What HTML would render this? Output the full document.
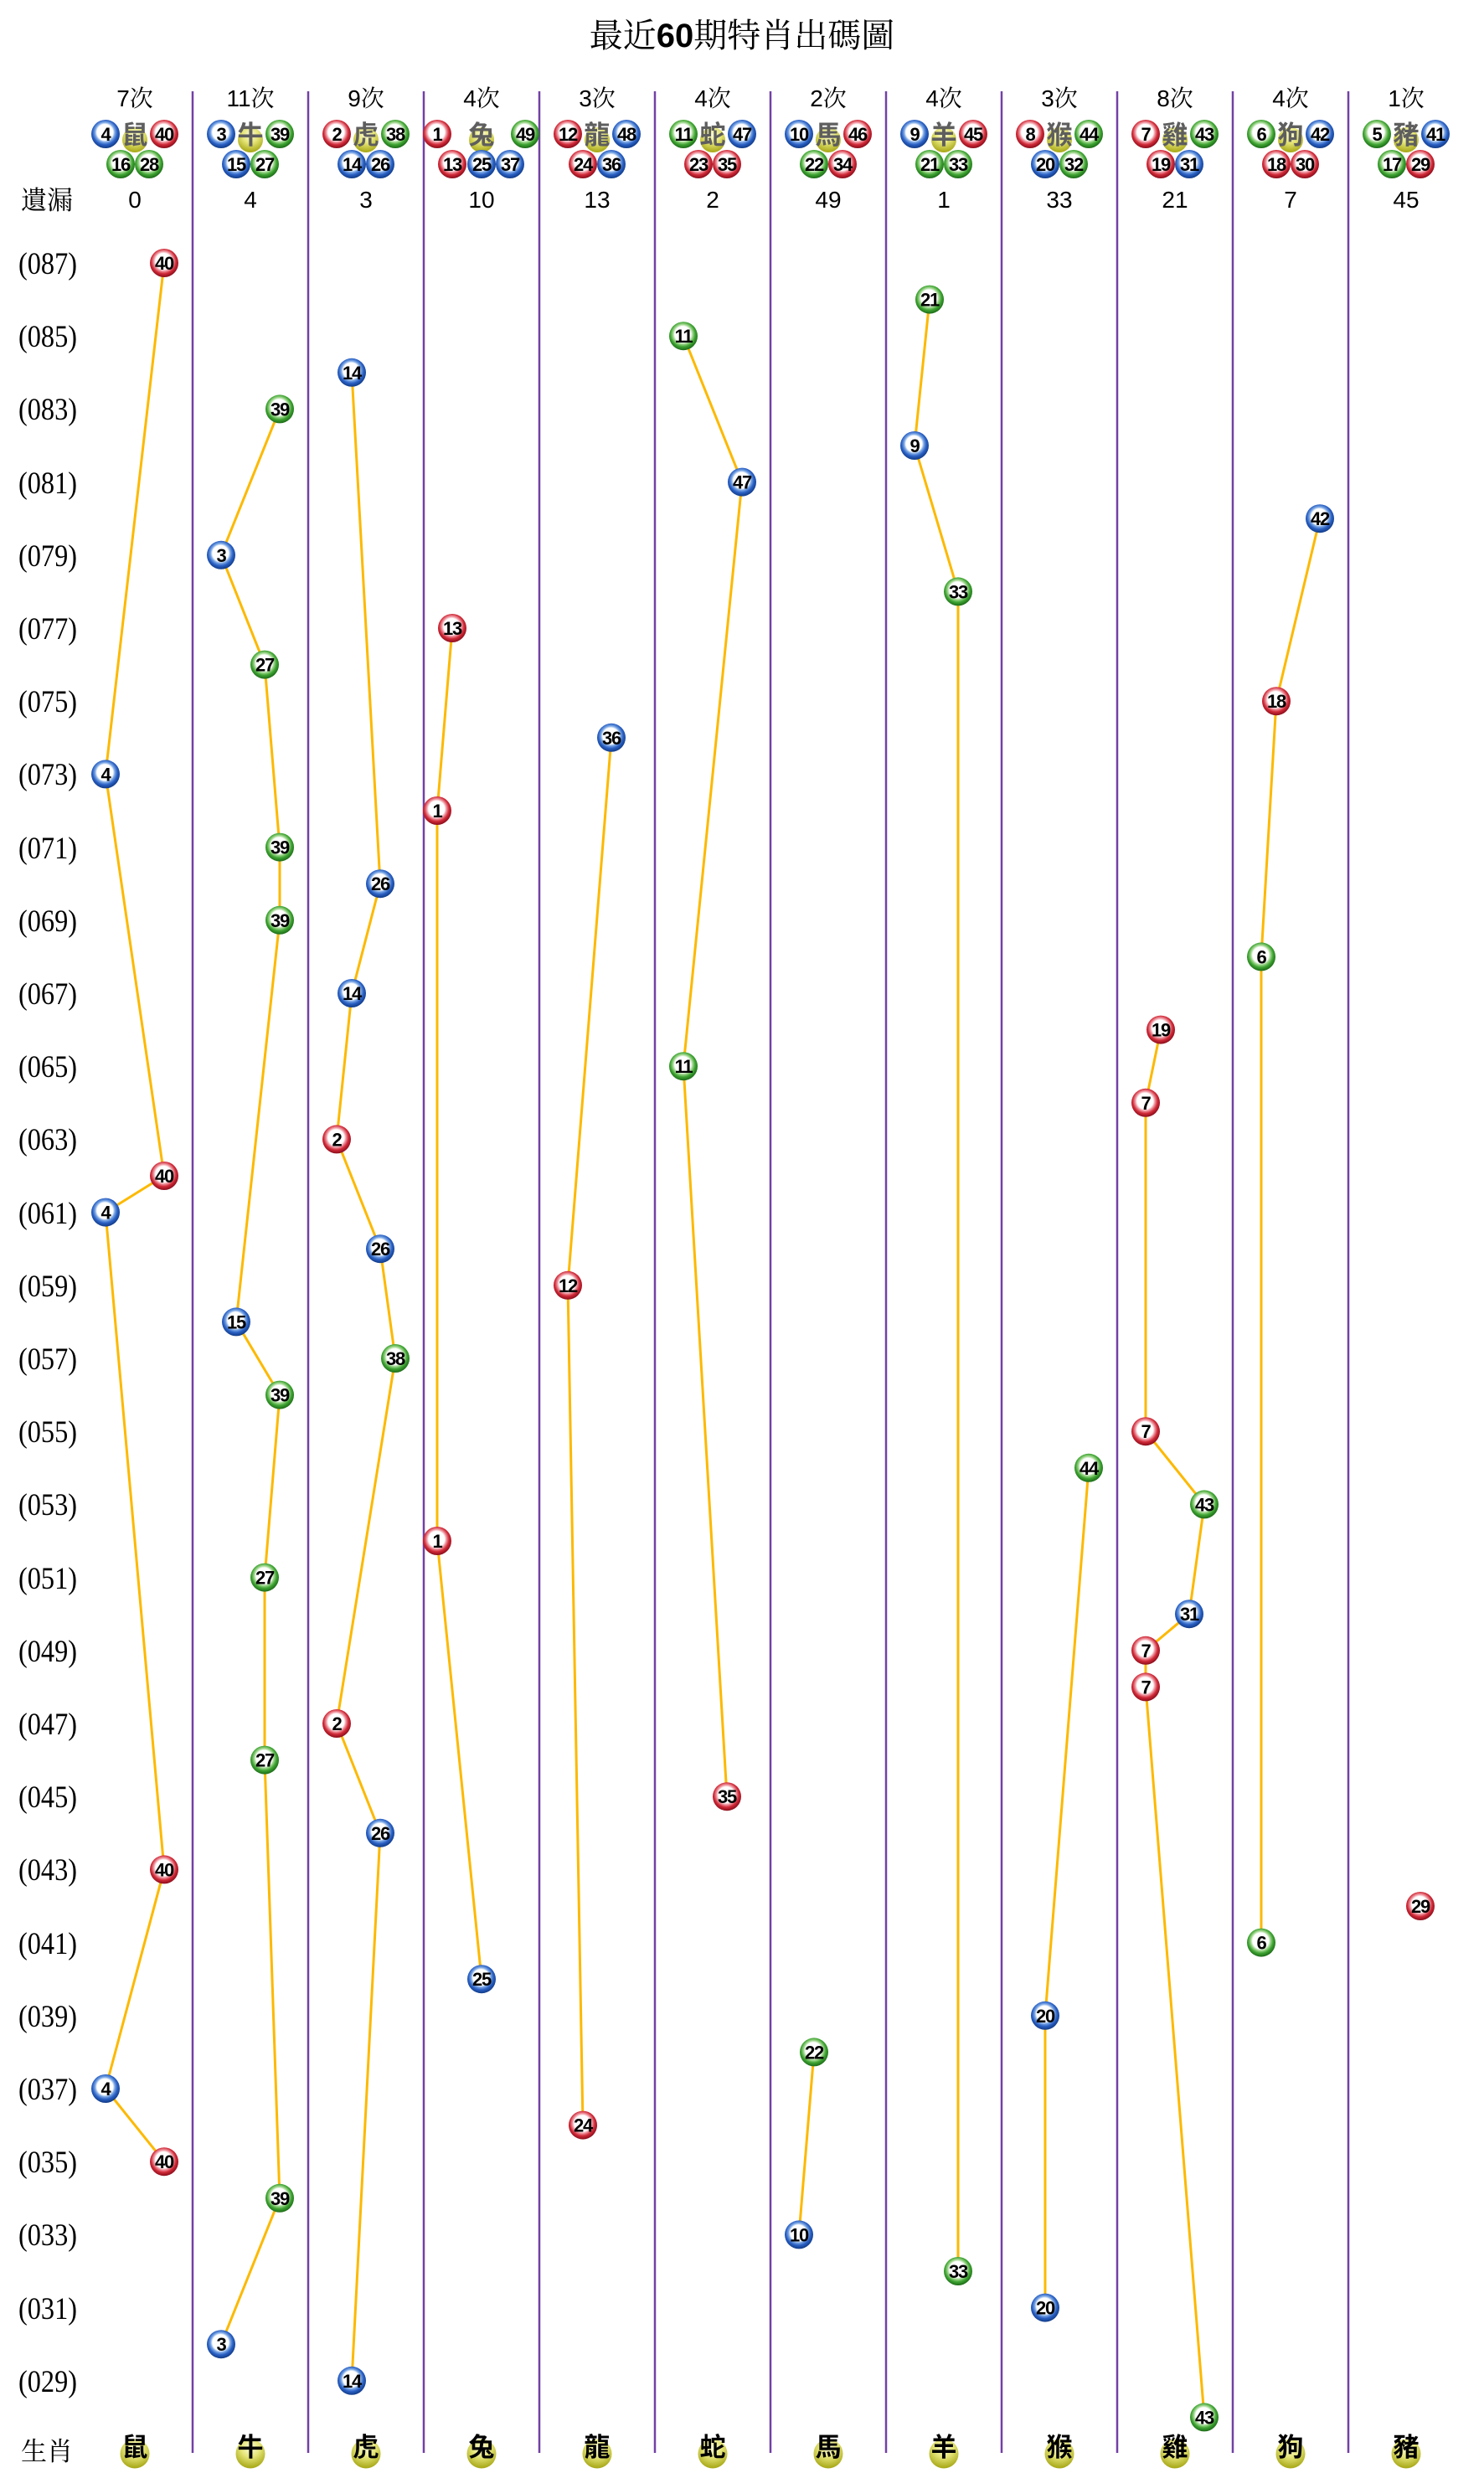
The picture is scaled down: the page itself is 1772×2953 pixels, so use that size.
<!DOCTYPE html>
<html><head><meta charset="utf-8">
<style>
html,body{margin:0;padding:0;background:#fff;}
body{width:1772px;height:2953px;overflow:hidden;}
svg{display:block;}
.n{font-family:"Liberation Sans",sans-serif;font-weight:bold;font-size:22px;text-anchor:middle;fill:#000;letter-spacing:-1.2px;}
.cnt{font-family:"Liberation Sans","Noto Serif CJK SC",serif;font-size:28px;text-anchor:middle;fill:#000;}
.miss{font-family:"Liberation Sans",sans-serif;font-size:28px;text-anchor:middle;fill:#000;}
.lab{font-family:"Liberation Serif",serif;font-size:37px;fill:#000;}
.zh{font-family:"Noto Sans CJK TC","Noto Sans CJK SC",sans-serif;font-weight:bold;font-size:31px;text-anchor:middle;fill:#5e5e5e;}
.zb{font-family:"Noto Sans CJK TC","Noto Sans CJK SC",sans-serif;font-weight:bold;font-size:31px;text-anchor:middle;fill:#000;}
.ser{font-family:"Liberation Serif","Noto Serif CJK SC",serif;font-size:31px;fill:#000;}
.vl{stroke:#7241a4;stroke-width:2.5;}
.gl{fill:none;stroke:#fdb900;stroke-width:3;stroke-linejoin:round;}
</style></head>
<body>
<svg width="1772" height="2953" viewBox="0 0 1772 2953" xmlns="http://www.w3.org/2000/svg">
<defs>
<radialGradient id="gb" cx="0.48" cy="0.44" r="0.56">
<stop offset="0" stop-color="#fff"/><stop offset="0.5" stop-color="#fff"/><stop offset="0.62" stop-color="#7aa6e4"/><stop offset="0.78" stop-color="#2a60c4"/><stop offset="1" stop-color="#103a86"/>
</radialGradient>
<radialGradient id="gr" cx="0.48" cy="0.44" r="0.56">
<stop offset="0" stop-color="#fff"/><stop offset="0.5" stop-color="#fff"/><stop offset="0.62" stop-color="#ee96a0"/><stop offset="0.78" stop-color="#d12a38"/><stop offset="1" stop-color="#8a0c1a"/>
</radialGradient>
<radialGradient id="gg" cx="0.48" cy="0.44" r="0.56">
<stop offset="0" stop-color="#fff"/><stop offset="0.5" stop-color="#fff"/><stop offset="0.62" stop-color="#9ed68c"/><stop offset="0.78" stop-color="#3ea432"/><stop offset="1" stop-color="#1b6a16"/>
</radialGradient>
<radialGradient id="gy" cx="0.5" cy="0.3" r="0.7">
<stop offset="0" stop-color="#fbfbd8"/><stop offset="0.45" stop-color="#e6e67a"/><stop offset="1" stop-color="#a6a614"/>
</radialGradient>
</defs>

<!-- Title -->
<text x="886" y="56" text-anchor="middle" style="font-family:'Noto Serif CJK SC',serif;font-size:40px;fill:#000;">最近<tspan style="font-family:'Liberation Sans',sans-serif;font-weight:bold;">60</tspan>期特肖出碼圖</text>

<!-- vertical lines -->
<g class="vl">
<line x1="230" y1="109" x2="230" y2="2929"/>
<line x1="368" y1="109" x2="368" y2="2929"/>
<line x1="506" y1="109" x2="506" y2="2929"/>
<line x1="644" y1="109" x2="644" y2="2929"/>
<line x1="782" y1="109" x2="782" y2="2929"/>
<line x1="920" y1="109" x2="920" y2="2929"/>
<line x1="1058" y1="109" x2="1058" y2="2929"/>
<line x1="1196" y1="109" x2="1196" y2="2929"/>
<line x1="1334" y1="109" x2="1334" y2="2929"/>
<line x1="1472" y1="109" x2="1472" y2="2929"/>
<line x1="1610" y1="109" x2="1610" y2="2929"/>
</g>

<!-- counts -->
<text class="cnt" x="161" y="127">7次</text>
<text class="cnt" x="299" y="127">11次</text>
<text class="cnt" x="437" y="127">9次</text>
<text class="cnt" x="575" y="127">4次</text>
<text class="cnt" x="713" y="127">3次</text>
<text class="cnt" x="851" y="127">4次</text>
<text class="cnt" x="989" y="127">2次</text>
<text class="cnt" x="1127" y="127">4次</text>
<text class="cnt" x="1265" y="127">3次</text>
<text class="cnt" x="1403" y="127">8次</text>
<text class="cnt" x="1541" y="127">4次</text>
<text class="cnt" x="1679" y="127">1次</text>

<!-- header zodiac yellow balls -->
<g fill="url(#gy)">
<circle cx="161" cy="167" r="15"/><circle cx="299" cy="167" r="15"/><circle cx="437" cy="167" r="15"/><circle cx="575" cy="167" r="15"/>
<circle cx="713" cy="167" r="15"/><circle cx="851" cy="167" r="15"/><circle cx="989" cy="167" r="15"/><circle cx="1127" cy="167" r="15"/>
<circle cx="1265" cy="167" r="15"/><circle cx="1403" cy="167" r="15"/><circle cx="1541" cy="167" r="15"/><circle cx="1679" cy="167" r="15"/>
</g>
<text class="zh" x="161" y="172">鼠</text>
<text class="zh" x="299" y="172">牛</text>
<text class="zh" x="437" y="172">虎</text>
<text class="zh" x="575" y="172">兔</text>
<text class="zh" x="713" y="172">龍</text>
<text class="zh" x="851" y="172">蛇</text>
<text class="zh" x="989" y="172">馬</text>
<text class="zh" x="1127" y="172">羊</text>
<text class="zh" x="1265" y="172">猴</text>
<text class="zh" x="1403" y="172">雞</text>
<text class="zh" x="1541" y="172">狗</text>
<text class="zh" x="1679" y="172">豬</text>

<!-- header balls -->
<g>
<circle cx="126" cy="160" r="17" fill="url(#gb)"/><text class="n" x="126" y="168">4</text>
<circle cx="196" cy="160" r="17" fill="url(#gr)"/><text class="n" x="196" y="168">40</text>
<circle cx="144" cy="196" r="17" fill="url(#gg)"/><text class="n" x="144" y="204">16</text>
<circle cx="178" cy="196" r="17" fill="url(#gg)"/><text class="n" x="178" y="204">28</text>

<circle cx="264" cy="160" r="17" fill="url(#gb)"/><text class="n" x="264" y="168">3</text>
<circle cx="334" cy="160" r="17" fill="url(#gg)"/><text class="n" x="334" y="168">39</text>
<circle cx="282" cy="196" r="17" fill="url(#gb)"/><text class="n" x="282" y="204">15</text>
<circle cx="316" cy="196" r="17" fill="url(#gg)"/><text class="n" x="316" y="204">27</text>

<circle cx="402" cy="160" r="17" fill="url(#gr)"/><text class="n" x="402" y="168">2</text>
<circle cx="472" cy="160" r="17" fill="url(#gg)"/><text class="n" x="472" y="168">38</text>
<circle cx="420" cy="196" r="17" fill="url(#gb)"/><text class="n" x="420" y="204">14</text>
<circle cx="454" cy="196" r="17" fill="url(#gb)"/><text class="n" x="454" y="204">26</text>

<circle cx="522" cy="160" r="17" fill="url(#gr)"/><text class="n" x="522" y="168">1</text>
<circle cx="627" cy="160" r="17" fill="url(#gg)"/><text class="n" x="627" y="168">49</text>
<circle cx="540" cy="196" r="17" fill="url(#gr)"/><text class="n" x="540" y="204">13</text>
<circle cx="575" cy="196" r="17" fill="url(#gb)"/><text class="n" x="575" y="204">25</text>
<circle cx="609" cy="196" r="17" fill="url(#gb)"/><text class="n" x="609" y="204">37</text>

<circle cx="678" cy="160" r="17" fill="url(#gr)"/><text class="n" x="678" y="168">12</text>
<circle cx="748" cy="160" r="17" fill="url(#gb)"/><text class="n" x="748" y="168">48</text>
<circle cx="696" cy="196" r="17" fill="url(#gr)"/><text class="n" x="696" y="204">24</text>
<circle cx="730" cy="196" r="17" fill="url(#gb)"/><text class="n" x="730" y="204">36</text>

<circle cx="816" cy="160" r="17" fill="url(#gg)"/><text class="n" x="816" y="168">11</text>
<circle cx="886" cy="160" r="17" fill="url(#gb)"/><text class="n" x="886" y="168">47</text>
<circle cx="834" cy="196" r="17" fill="url(#gr)"/><text class="n" x="834" y="204">23</text>
<circle cx="868" cy="196" r="17" fill="url(#gr)"/><text class="n" x="868" y="204">35</text>

<circle cx="954" cy="160" r="17" fill="url(#gb)"/><text class="n" x="954" y="168">10</text>
<circle cx="1024" cy="160" r="17" fill="url(#gr)"/><text class="n" x="1024" y="168">46</text>
<circle cx="972" cy="196" r="17" fill="url(#gg)"/><text class="n" x="972" y="204">22</text>
<circle cx="1006" cy="196" r="17" fill="url(#gr)"/><text class="n" x="1006" y="204">34</text>

<circle cx="1092" cy="160" r="17" fill="url(#gb)"/><text class="n" x="1092" y="168">9</text>
<circle cx="1162" cy="160" r="17" fill="url(#gr)"/><text class="n" x="1162" y="168">45</text>
<circle cx="1110" cy="196" r="17" fill="url(#gg)"/><text class="n" x="1110" y="204">21</text>
<circle cx="1144" cy="196" r="17" fill="url(#gg)"/><text class="n" x="1144" y="204">33</text>

<circle cx="1230" cy="160" r="17" fill="url(#gr)"/><text class="n" x="1230" y="168">8</text>
<circle cx="1300" cy="160" r="17" fill="url(#gg)"/><text class="n" x="1300" y="168">44</text>
<circle cx="1248" cy="196" r="17" fill="url(#gb)"/><text class="n" x="1248" y="204">20</text>
<circle cx="1282" cy="196" r="17" fill="url(#gg)"/><text class="n" x="1282" y="204">32</text>

<circle cx="1368" cy="160" r="17" fill="url(#gr)"/><text class="n" x="1368" y="168">7</text>
<circle cx="1438" cy="160" r="17" fill="url(#gg)"/><text class="n" x="1438" y="168">43</text>
<circle cx="1386" cy="196" r="17" fill="url(#gr)"/><text class="n" x="1386" y="204">19</text>
<circle cx="1420" cy="196" r="17" fill="url(#gb)"/><text class="n" x="1420" y="204">31</text>

<circle cx="1506" cy="160" r="17" fill="url(#gg)"/><text class="n" x="1506" y="168">6</text>
<circle cx="1576" cy="160" r="17" fill="url(#gb)"/><text class="n" x="1576" y="168">42</text>
<circle cx="1524" cy="196" r="17" fill="url(#gr)"/><text class="n" x="1524" y="204">18</text>
<circle cx="1558" cy="196" r="17" fill="url(#gr)"/><text class="n" x="1558" y="204">30</text>

<circle cx="1644" cy="160" r="17" fill="url(#gg)"/><text class="n" x="1644" y="168">5</text>
<circle cx="1714" cy="160" r="17" fill="url(#gb)"/><text class="n" x="1714" y="168">41</text>
<circle cx="1662" cy="196" r="17" fill="url(#gg)"/><text class="n" x="1662" y="204">17</text>
<circle cx="1696" cy="196" r="17" fill="url(#gr)"/><text class="n" x="1696" y="204">29</text>
</g>

<!-- 遺漏 row -->
<text class="ser" x="25" y="250">遺漏</text>
<text class="miss" x="161" y="248">0</text>
<text class="miss" x="299" y="248">4</text>
<text class="miss" x="437" y="248">3</text>
<text class="miss" x="575" y="248">10</text>
<text class="miss" x="713" y="248">13</text>
<text class="miss" x="851" y="248">2</text>
<text class="miss" x="989" y="248">49</text>
<text class="miss" x="1127" y="248">1</text>
<text class="miss" x="1265" y="248">33</text>
<text class="miss" x="1403" y="248">21</text>
<text class="miss" x="1541" y="248">7</text>
<text class="miss" x="1679" y="248">45</text>

<!-- row labels -->
<g class="lab">
<text x="22" y="327" textLength="70" lengthAdjust="spacingAndGlyphs">(087)</text>
<text x="22" y="414" textLength="70" lengthAdjust="spacingAndGlyphs">(085)</text>
<text x="22" y="501" textLength="70" lengthAdjust="spacingAndGlyphs">(083)</text>
<text x="22" y="589" textLength="70" lengthAdjust="spacingAndGlyphs">(081)</text>
<text x="22" y="676" textLength="70" lengthAdjust="spacingAndGlyphs">(079)</text>
<text x="22" y="763" textLength="70" lengthAdjust="spacingAndGlyphs">(077)</text>
<text x="22" y="850" textLength="70" lengthAdjust="spacingAndGlyphs">(075)</text>
<text x="22" y="937" textLength="70" lengthAdjust="spacingAndGlyphs">(073)</text>
<text x="22" y="1025" textLength="70" lengthAdjust="spacingAndGlyphs">(071)</text>
<text x="22" y="1112" textLength="70" lengthAdjust="spacingAndGlyphs">(069)</text>
<text x="22" y="1199" textLength="70" lengthAdjust="spacingAndGlyphs">(067)</text>
<text x="22" y="1286" textLength="70" lengthAdjust="spacingAndGlyphs">(065)</text>
<text x="22" y="1373" textLength="70" lengthAdjust="spacingAndGlyphs">(063)</text>
<text x="22" y="1461" textLength="70" lengthAdjust="spacingAndGlyphs">(061)</text>
<text x="22" y="1548" textLength="70" lengthAdjust="spacingAndGlyphs">(059)</text>
<text x="22" y="1635" textLength="70" lengthAdjust="spacingAndGlyphs">(057)</text>
<text x="22" y="1722" textLength="70" lengthAdjust="spacingAndGlyphs">(055)</text>
<text x="22" y="1809" textLength="70" lengthAdjust="spacingAndGlyphs">(053)</text>
<text x="22" y="1897" textLength="70" lengthAdjust="spacingAndGlyphs">(051)</text>
<text x="22" y="1984" textLength="70" lengthAdjust="spacingAndGlyphs">(049)</text>
<text x="22" y="2071" textLength="70" lengthAdjust="spacingAndGlyphs">(047)</text>
<text x="22" y="2158" textLength="70" lengthAdjust="spacingAndGlyphs">(045)</text>
<text x="22" y="2245" textLength="70" lengthAdjust="spacingAndGlyphs">(043)</text>
<text x="22" y="2333" textLength="70" lengthAdjust="spacingAndGlyphs">(041)</text>
<text x="22" y="2420" textLength="70" lengthAdjust="spacingAndGlyphs">(039)</text>
<text x="22" y="2507" textLength="70" lengthAdjust="spacingAndGlyphs">(037)</text>
<text x="22" y="2594" textLength="70" lengthAdjust="spacingAndGlyphs">(035)</text>
<text x="22" y="2681" textLength="70" lengthAdjust="spacingAndGlyphs">(033)</text>
<text x="22" y="2769" textLength="70" lengthAdjust="spacingAndGlyphs">(031)</text>
<text x="22" y="2856" textLength="70" lengthAdjust="spacingAndGlyphs">(029)</text>
</g>

<!-- trend lines -->
<g class="gl">
<polyline points="196,314 126,924.4 196,1404 126,1447.6 196,2232.4 126,2494 196,2581.2"/>
<polyline points="334,488.4 264,662.8 316,793.6 334,1011.6 334,1098.8 282,1578.4 334,1665.6 316,1883.6 316,2101.6 334,2624.8 264,2799.2"/>
<polyline points="420,444.8 454,1055.2 420,1186 402,1360.4 454,1491.2 472,1622 402,2058 454,2188.8 420,2842.8"/>
<polyline points="540,750 522,968 522,1840 575,2363.2"/>
<polyline points="730,880.8 678,1534.8 696,2537.6"/>
<polyline points="816,401.2 886,575.6 816,1273.2 868,2145.2"/>
<polyline points="972,2450.4 954,2668.4"/>
<polyline points="1110,357.6 1092,532 1144,706.4 1144,2712"/>
<polyline points="1300,1752.8 1248,2406.8 1248,2755.6"/>
<polyline points="1386,1229.6 1368,1316.8 1368,1709.2 1438,1796.4 1420,1927.2 1368,1970.8 1368,2014.4 1438,2886.4"/>
<polyline points="1576,619.2 1524,837.2 1506,1142.4 1506,2319.6"/>
</g>

<!-- chart balls -->
<g>
<!-- 鼠 -->
<circle cx="196" cy="314" r="17" fill="url(#gr)"/><text class="n" x="196" y="322">40</text>
<circle cx="126" cy="924.4" r="17" fill="url(#gb)"/><text class="n" x="126" y="932.4">4</text>
<circle cx="196" cy="1404" r="17" fill="url(#gr)"/><text class="n" x="196" y="1412">40</text>
<circle cx="126" cy="1447.6" r="17" fill="url(#gb)"/><text class="n" x="126" y="1455.6">4</text>
<circle cx="196" cy="2232.4" r="17" fill="url(#gr)"/><text class="n" x="196" y="2240.4">40</text>
<circle cx="126" cy="2494" r="17" fill="url(#gb)"/><text class="n" x="126" y="2502">4</text>
<circle cx="196" cy="2581.2" r="17" fill="url(#gr)"/><text class="n" x="196" y="2589.2">40</text>
<!-- 牛 -->
<circle cx="334" cy="488.4" r="17" fill="url(#gg)"/><text class="n" x="334" y="496.4">39</text>
<circle cx="264" cy="662.8" r="17" fill="url(#gb)"/><text class="n" x="264" y="670.8">3</text>
<circle cx="316" cy="793.6" r="17" fill="url(#gg)"/><text class="n" x="316" y="801.6">27</text>
<circle cx="334" cy="1011.6" r="17" fill="url(#gg)"/><text class="n" x="334" y="1019.6">39</text>
<circle cx="334" cy="1098.8" r="17" fill="url(#gg)"/><text class="n" x="334" y="1106.8">39</text>
<circle cx="282" cy="1578.4" r="17" fill="url(#gb)"/><text class="n" x="282" y="1586.4">15</text>
<circle cx="334" cy="1665.6" r="17" fill="url(#gg)"/><text class="n" x="334" y="1673.6">39</text>
<circle cx="316" cy="1883.6" r="17" fill="url(#gg)"/><text class="n" x="316" y="1891.6">27</text>
<circle cx="316" cy="2101.6" r="17" fill="url(#gg)"/><text class="n" x="316" y="2109.6">27</text>
<circle cx="334" cy="2624.8" r="17" fill="url(#gg)"/><text class="n" x="334" y="2632.8">39</text>
<circle cx="264" cy="2799.2" r="17" fill="url(#gb)"/><text class="n" x="264" y="2807.2">3</text>
<!-- 虎 -->
<circle cx="420" cy="444.8" r="17" fill="url(#gb)"/><text class="n" x="420" y="452.8">14</text>
<circle cx="454" cy="1055.2" r="17" fill="url(#gb)"/><text class="n" x="454" y="1063.2">26</text>
<circle cx="420" cy="1186" r="17" fill="url(#gb)"/><text class="n" x="420" y="1194">14</text>
<circle cx="402" cy="1360.4" r="17" fill="url(#gr)"/><text class="n" x="402" y="1368.4">2</text>
<circle cx="454" cy="1491.2" r="17" fill="url(#gb)"/><text class="n" x="454" y="1499.2">26</text>
<circle cx="472" cy="1622" r="17" fill="url(#gg)"/><text class="n" x="472" y="1630">38</text>
<circle cx="402" cy="2058" r="17" fill="url(#gr)"/><text class="n" x="402" y="2066">2</text>
<circle cx="454" cy="2188.8" r="17" fill="url(#gb)"/><text class="n" x="454" y="2196.8">26</text>
<circle cx="420" cy="2842.8" r="17" fill="url(#gb)"/><text class="n" x="420" y="2850.8">14</text>
<!-- 兔 -->
<circle cx="540" cy="750" r="17" fill="url(#gr)"/><text class="n" x="540" y="758">13</text>
<circle cx="522" cy="968" r="17" fill="url(#gr)"/><text class="n" x="522" y="976">1</text>
<circle cx="522" cy="1840" r="17" fill="url(#gr)"/><text class="n" x="522" y="1848">1</text>
<circle cx="575" cy="2363.2" r="17" fill="url(#gb)"/><text class="n" x="575" y="2371.2">25</text>
<!-- 龍 -->
<circle cx="730" cy="880.8" r="17" fill="url(#gb)"/><text class="n" x="730" y="888.8">36</text>
<circle cx="678" cy="1534.8" r="17" fill="url(#gr)"/><text class="n" x="678" y="1542.8">12</text>
<circle cx="696" cy="2537.6" r="17" fill="url(#gr)"/><text class="n" x="696" y="2545.6">24</text>
<!-- 蛇 -->
<circle cx="816" cy="401.2" r="17" fill="url(#gg)"/><text class="n" x="816" y="409.2">11</text>
<circle cx="886" cy="575.6" r="17" fill="url(#gb)"/><text class="n" x="886" y="583.6">47</text>
<circle cx="816" cy="1273.2" r="17" fill="url(#gg)"/><text class="n" x="816" y="1281.2">11</text>
<circle cx="868" cy="2145.2" r="17" fill="url(#gr)"/><text class="n" x="868" y="2153.2">35</text>
<!-- 馬 -->
<circle cx="972" cy="2450.4" r="17" fill="url(#gg)"/><text class="n" x="972" y="2458.4">22</text>
<circle cx="954" cy="2668.4" r="17" fill="url(#gb)"/><text class="n" x="954" y="2676.4">10</text>
<!-- 羊 -->
<circle cx="1110" cy="357.6" r="17" fill="url(#gg)"/><text class="n" x="1110" y="365.6">21</text>
<circle cx="1092" cy="532" r="17" fill="url(#gb)"/><text class="n" x="1092" y="540">9</text>
<circle cx="1144" cy="706.4" r="17" fill="url(#gg)"/><text class="n" x="1144" y="714.4">33</text>
<circle cx="1144" cy="2712" r="17" fill="url(#gg)"/><text class="n" x="1144" y="2720">33</text>
<!-- 猴 -->
<circle cx="1300" cy="1752.8" r="17" fill="url(#gg)"/><text class="n" x="1300" y="1760.8">44</text>
<circle cx="1248" cy="2406.8" r="17" fill="url(#gb)"/><text class="n" x="1248" y="2414.8">20</text>
<circle cx="1248" cy="2755.6" r="17" fill="url(#gb)"/><text class="n" x="1248" y="2763.6">20</text>
<!-- 雞 -->
<circle cx="1386" cy="1229.6" r="17" fill="url(#gr)"/><text class="n" x="1386" y="1237.6">19</text>
<circle cx="1368" cy="1316.8" r="17" fill="url(#gr)"/><text class="n" x="1368" y="1324.8">7</text>
<circle cx="1368" cy="1709.2" r="17" fill="url(#gr)"/><text class="n" x="1368" y="1717.2">7</text>
<circle cx="1438" cy="1796.4" r="17" fill="url(#gg)"/><text class="n" x="1438" y="1804.4">43</text>
<circle cx="1420" cy="1927.2" r="17" fill="url(#gb)"/><text class="n" x="1420" y="1935.2">31</text>
<circle cx="1368" cy="1970.8" r="17" fill="url(#gr)"/><text class="n" x="1368" y="1978.8">7</text>
<circle cx="1368" cy="2014.4" r="17" fill="url(#gr)"/><text class="n" x="1368" y="2022.4">7</text>
<circle cx="1438" cy="2886.4" r="17" fill="url(#gg)"/><text class="n" x="1438" y="2894.4">43</text>
<!-- 狗 -->
<circle cx="1576" cy="619.2" r="17" fill="url(#gb)"/><text class="n" x="1576" y="627.2">42</text>
<circle cx="1524" cy="837.2" r="17" fill="url(#gr)"/><text class="n" x="1524" y="845.2">18</text>
<circle cx="1506" cy="1142.4" r="17" fill="url(#gg)"/><text class="n" x="1506" y="1150.4">6</text>
<circle cx="1506" cy="2319.6" r="17" fill="url(#gg)"/><text class="n" x="1506" y="2327.6">6</text>
<!-- 豬 -->
<circle cx="1696" cy="2276" r="17" fill="url(#gr)"/><text class="n" x="1696" y="2284">29</text>
</g>

<!-- bottom row -->
<text class="ser" x="25" y="2938">生肖</text>
<g fill="url(#gy)">
<circle cx="161" cy="2930" r="17.5"/><circle cx="299" cy="2930" r="17.5"/><circle cx="437" cy="2930" r="17.5"/><circle cx="575" cy="2930" r="17.5"/>
<circle cx="713" cy="2930" r="17.5"/><circle cx="851" cy="2930" r="17.5"/><circle cx="989" cy="2930" r="17.5"/><circle cx="1127" cy="2930" r="17.5"/>
<circle cx="1265" cy="2930" r="17.5"/><circle cx="1403" cy="2930" r="17.5"/><circle cx="1541" cy="2930" r="17.5"/><circle cx="1679" cy="2930" r="17.5"/>
</g>
<text class="zb" x="161" y="2933">鼠</text>
<text class="zb" x="299" y="2933">牛</text>
<text class="zb" x="437" y="2933">虎</text>
<text class="zb" x="575" y="2933">兔</text>
<text class="zb" x="713" y="2933">龍</text>
<text class="zb" x="851" y="2933">蛇</text>
<text class="zb" x="989" y="2933">馬</text>
<text class="zb" x="1127" y="2933">羊</text>
<text class="zb" x="1265" y="2933">猴</text>
<text class="zb" x="1403" y="2933">雞</text>
<text class="zb" x="1541" y="2933">狗</text>
<text class="zb" x="1679" y="2933">豬</text>
</svg>
</body></html>
